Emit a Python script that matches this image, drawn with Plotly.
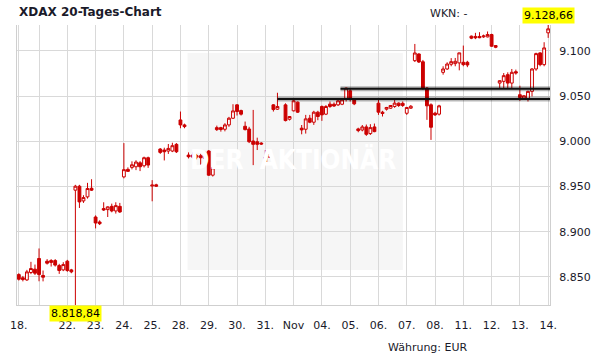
import plotly.graph_objects as go

# ---- data ----
# slot index: 7 slots per trading day; day d starts at slot 7*d
day_start_slot = [2, 7, 14, 21, 28, 35, 42, 49, 56, 63, 70, 77, 84, 91, 98, 105, 112, 119, 126, 133]
day_labels = ["18.", "", "22.", "23.", "24.", "25.", "28.", "29.", "30.", "31.", "Nov",
              "04.", "05.", "06.", "07.", "08.", "11.", "12.", "13.", "14."]

slot = [2, 3, 4, 5, 6, 7, 8, 9, 10, 11, 12, 13, 14, 15, 16, 17, 18, 19, 20, 21, 22, 23, 24, 25, 26, 27,
        28, 29, 30, 31, 32, 33, 34, 35, 36, 37, 38, 39, 40, 41, 42, 43, 44, 45, 46, 47, 48, 49, 50,
        51, 52, 53, 54, 55, 56, 57, 58, 59, 60, 61, 62, 63, 64, 65, 66, 68, 69, 70, 71, 72, 73, 74,
        75, 76, 77, 78, 79, 80, 81, 82, 83, 84, 85, 86, 87, 88, 89, 90, 91, 92, 93, 94, 95, 96, 97,
        98, 99, 100, 101, 102, 103, 104, 105, 106, 107, 108, 109, 110, 111, 112, 113, 114, 115, 116,
        117, 118, 119, 120, 121, 122, 123, 124, 125, 126, 127, 128, 129, 130, 131, 132, 133]

open_ = [8852.5, 8849, 8846.6, 8854.8, 8858.5, 8870.3, 8851.5, 8867.3, 8868, 8868, 8862.5, 8857.7, 8867.3, 8857.7,
         8945.9, 8950.3, 8934, 8938.5, 8948, 8916.2, 8910.7, 8925.5, 8924.4, 8928, 8922.9, 8928,
         8960.6, 8968.9, 8971.1, 8971.8, 8976.2, 8972.9, 8981.8, 8950.5, 8951.8, 8991.4, 8990.3, 8989.2, 8989.2, 8996.6,
         9023.6, 9018.1, 8984.7, 8984.7, 8982.5, 8984, 8981, 8989.2, 8962.5,
         9015.1, 9015.1, 9013.3, 9018.1, 9025.5, 9040.3, 9034, 9016.6, 9013.6, 9000.3, 8999.5, 8998, 8975.5, 8982.5,
         9040.3, 9035.5, 9040.3, 9024.4, 9033.7, 9043.3, 9014.5, 9013.3, 9025.5, 9021.1, 9032.2, 9038.5, 9030,
         9041.1, 9041, 9040.3, 9041, 9047, 9055.9, 9045.9, 9013.7, 9012.5, 9015.9, 9008.5, 9015.9,
         9042.2, 9032.2, 9035.5, 9036.6, 9038.5, 9042.2, 9042, 9031, 9036.6, 9089.2, 9096.6, 9088, 9058.9, 9040.4,
         9031.1, 9030, 9076.3, 9080, 9085.2, 9085.9, 9086.7, 9087.4, 9087.4, 9116.3, 9116, 9116, 9115.5, 9115.5,
         9118.1, 9105.9, 9064.4, 9066.3, 9073.7, 9064.4, 9077, 9051.5, 9047.8, 9046.7, 9055.2, 9080, 9097.8, 9084.8, 9120]

high = [8854, 8851, 8857.7, 8866.6, 8863.6, 8881.4, 8857, 8869.6, 8869.6, 8869.6, 8864.4, 8866.2, 8868.8, 8858.8,
        8951.8, 8951.8, 8940.3, 8954, 8958, 8918, 8912.5, 8932.5, 8928, 8931, 8932.5, 8931.8,
        8998, 8971.1, 8977.8, 8979, 8978, 8983, 8983, 8957, 8953, 8992.5, 8992.9, 8997, 8998.4, 8998,
        9032.9, 9019.5, 8987.7, 8987.7, 8986, 8986.2, 8988.4, 8990.3, 8971.5,
        9017.3, 9016, 9020, 9027, 9041, 9041, 9035, 9021.8, 9016, 9034.7, 9004, 8999, 8990.3, 8990,
        9041, 9053.7, 9042, 9028, 9047.7, 9044, 9018, 9029.2, 9029.2, 9033.7, 9033.7, 9039.6, 9040,
        9044, 9043, 9046.3, 9047, 9059.5, 9059, 9046, 9015, 9018, 9018.5, 9018.9, 9019.6,
        9045.9, 9033.7, 9038, 9040, 9045.9, 9043, 9044, 9038, 9040, 9107.7, 9097.4, 9090, 9060, 9042,
        9032.6, 9040.4, 9083, 9087.4, 9092, 9092.2, 9098, 9105.9, 9089, 9117, 9120, 9120.7, 9118, 9121.5,
        9119, 9106.5, 9067.5, 9075.5, 9076.3, 9080, 9079.3, 9061.5, 9051, 9056, 9081, 9098, 9098.5, 9109.6, 9128.66]

low = [8845.9, 8845, 8845.5, 8853, 8852, 8845.1, 8845, 8863.6, 8861.4, 8861.4, 8853.3, 8856.3, 8855.5, 8854,
       8818.84, 8926.2, 8931.8, 8936.6, 8945, 8903.6, 8907.3, 8922.9, 8916.2, 8921.4, 8920, 8920.7,
       8959, 8966, 8968.9, 8968.1, 8967, 8971, 8970.6, 8933.6, 8949.5, 8986, 8978.8, 8986, 8988, 8987,
       9014.4, 9014.4, 8981, 8981, 8980, 8972.9, 8980, 8961.8, 8961,
       9011.4, 9010.7, 9011, 9016, 9024.7, 9028.5, 9028.5, 9012, 8998, 8973.6, 8990.3, 8996, 8973.6, 8981.8,
       9032.9, 9034.7, 9022, 9023, 9033, 9031.4, 9007.7, 9008.5, 9020, 9018.1, 9023.3, 9022.6, 9029,
       9037, 9038, 9039, 9040, 9044, 9044, 9040, 9010, 9011, 9006, 9007, 9010,
       9029.2, 9027.4, 9034, 9036, 9037, 9038, 9038, 9029.2, 9036, 9087.7, 9086.6, 9057, 9023.7, 9001.5,
       9028, 9028.5, 9073.7, 9079, 9083, 9083, 9078.5, 9083, 9082, 9113, 9113, 9114, 9114.5, 9115,
       9104.5, 9103, 9058.9, 9058.9, 9058.9, 9058.9, 9073.7, 9044.8, 9046, 9044, 9049.6, 9078, 9083, 9083, 9114.4]

close = [8847.4, 8847, 8855.5, 8859.2, 8854, 8852.5, 8849.6, 8865.1, 8866, 8863, 8857, 8863.6, 8857, 8855.5,
         8950.3, 8932.9, 8937.7, 8947.7, 8945.9, 8909.6, 8908.8, 8924, 8927.4, 8922.9, 8928.8, 8921.8,
         8968.6, 8966.7, 8974, 8977, 8971.8, 8981.8, 8973.7, 8951.5, 8950.3, 8987.7, 8988.4, 8992.1, 8995.1, 8988.4,
         9018.1, 9016.2, 8982.9, 8982.5, 8984, 8981.8, 8987.7, 8962.5, 8970.7,
         9012.9, 9013, 9018.1, 9025.5, 9033.6, 9032.9, 9030, 9012.9, 8999.5, 8996.6, 8996.6, 8997, 8982.5, 8987,
         9035.1, 9038.5, 9022.9, 9027.4, 9044.8, 9032.2, 9012.6, 9024.8, 9021.1, 9032.2, 9027.4, 9029.2, 9038.5,
         9038.5, 9039, 9044.8, 9045.9, 9058.8, 9047, 9041.4, 9011.8, 9015.9, 9007.7, 9015.1, 9010.7,
         9032.2, 9030.7, 9037.4, 9039.6, 9042.2, 9039.6, 9039.6, 9037.4, 9038.8, 9097.7, 9087.7, 9058.9, 9039.2, 9015.5,
         9029.2, 9039.2, 9080, 9085.5, 9088.1, 9088.5, 9097.8, 9084.8, 9084.4, 9114.1, 9114.5, 9114.6, 9116.5, 9118.1,
         9105.2, 9104, 9067, 9072.6, 9064.4, 9076.3, 9075.5, 9048.5, 9050.4, 9055.2, 9080, 9097, 9084.8, 9103.3, 9124.4]

y_ticks = [8850, 8900, 8950, 9000, 9050, 9100]

# support / resistance lines: (start slot, price)
level_lines = [(81.6, 9058.1), (66.0, 9046.9)]

RED = "#cc0000"
TXT = "#1a1a2a"
FONT = "DejaVu Sans, Verdana, sans-serif"


def de_num(v):
    s = f"{v:,.2f}"
    return s.replace(",", "X").replace(".", ",").replace("X", ".")


fig = go.Figure()
fig.add_trace(go.Candlestick(
    x=slot, open=open_, high=high, low=low, close=close,
    increasing=dict(line=dict(color=RED, width=1), fillcolor="#ffffff"),
    decreasing=dict(line=dict(color=RED, width=1), fillcolor=RED),
    whiskerwidth=0, hoverinfo="skip", showlegend=False,
))

x_min = day_start_slot[0] - 0.45
x_max = day_start_slot[-1] + 0.45
y_min, y_max = min(low), max(high)

shapes = [
    # watermark panel
    dict(type="rect", xref="paper", yref="paper", x0=0.320, x1=0.724, y0=0.125, y1=0.9,
         fillcolor="#f6f6f6", line=dict(width=0), layer="below"),
]
for x0, lvl in level_lines:
    shapes.append(dict(type="line", xref="x", yref="y", x0=x0, x1=x_max, y0=lvl, y1=lvl,
                       line=dict(color="rgba(0,0,0,0.28)", width=5), layer="above"))
    shapes.append(dict(type="line", xref="x", yref="y", x0=x0, x1=x_max, y0=lvl, y1=lvl,
                       line=dict(color="#111111", width=2), layer="above"))

i_hi = high.index(y_max)
i_lo = low.index(y_min)

annotations = [
    dict(text="<b>XDAX 20-Tages-Chart</b>", xref="paper", yref="paper", x=0.0, y=1.046,
         xanchor="left", yanchor="middle", showarrow=False, font=dict(family=FONT, size=12, color=TXT)),
    dict(text="WKN: -", xref="paper", yref="paper", x=0.772, y=1.041,
         xanchor="left", yanchor="middle", showarrow=False, font=dict(family=FONT, size=11, color=TXT)),
    dict(text="Währung: EUR", xref="paper", yref="paper", x=0.85, y=-0.15,
         xanchor="right", yanchor="middle", showarrow=False, font=dict(family=FONT, size=11, color=TXT)),
    dict(text="<b>DER  AKTIONÄR</b>", xref="paper", yref="paper", x=0.518, y=0.518,
         xanchor="center", yanchor="middle", showarrow=False,
         font=dict(family="DejaVu Sans Condensed, Liberation Sans Narrow, Roboto, sans-serif", size=26,
                   color="#ffffff")),
    dict(text=de_num(y_max), x=slot[i_hi], y=y_max, xref="x", yref="y", xanchor="center",
         yanchor="bottom", yshift=1, showarrow=False, bgcolor="#ffff00", borderpad=1,
         font=dict(family=FONT, size=11, color="#000000")),
    dict(text=de_num(y_min), x=slot[i_lo], y=y_min, xref="x", yref="y", xanchor="center",
         yanchor="top", yshift=0, showarrow=False, bgcolor="#ffff00", borderpad=1,
         font=dict(family=FONT, size=11, color="#000000")),
]

fig.update_layout(
    width=611, height=364, autosize=False,
    margin=dict(l=10, r=61, t=25, b=59, pad=0),
    paper_bgcolor="#ffffff", plot_bgcolor="#ffffff",
    separators=",.",
    boxgap=0.0,
    shapes=shapes, annotations=annotations,
    font=dict(family=FONT, size=11, color=TXT),
    xaxis=dict(range=[x_min, x_max], tickmode="array", tickvals=day_start_slot, ticktext=day_labels,
               showgrid=True, gridcolor="#d9d9d9", gridwidth=1, zeroline=False,
               showline=True, linecolor="#cfcfcf", linewidth=1, ticks="",
               rangeslider=dict(visible=False), fixedrange=True,
               tickfont=dict(family=FONT, size=11, color=TXT), ticklabelstandoff=10),
    yaxis=dict(range=[y_min, y_max], side="right", tickmode="array", tickvals=y_ticks,
               tickformat=",d", showgrid=True, gridcolor="#d9d9d9", gridwidth=1, zeroline=False,
               showline=True, mirror=True, linecolor="#cfcfcf", linewidth=1, ticks="",
               fixedrange=True, tickfont=dict(family=FONT, size=11, color=TXT), ticklabelstandoff=6),
)

fig.write_html("out.html", config={"displayModeBar": False},
               post_script="document.body.style.margin='0';document.body.style.padding='0';")
